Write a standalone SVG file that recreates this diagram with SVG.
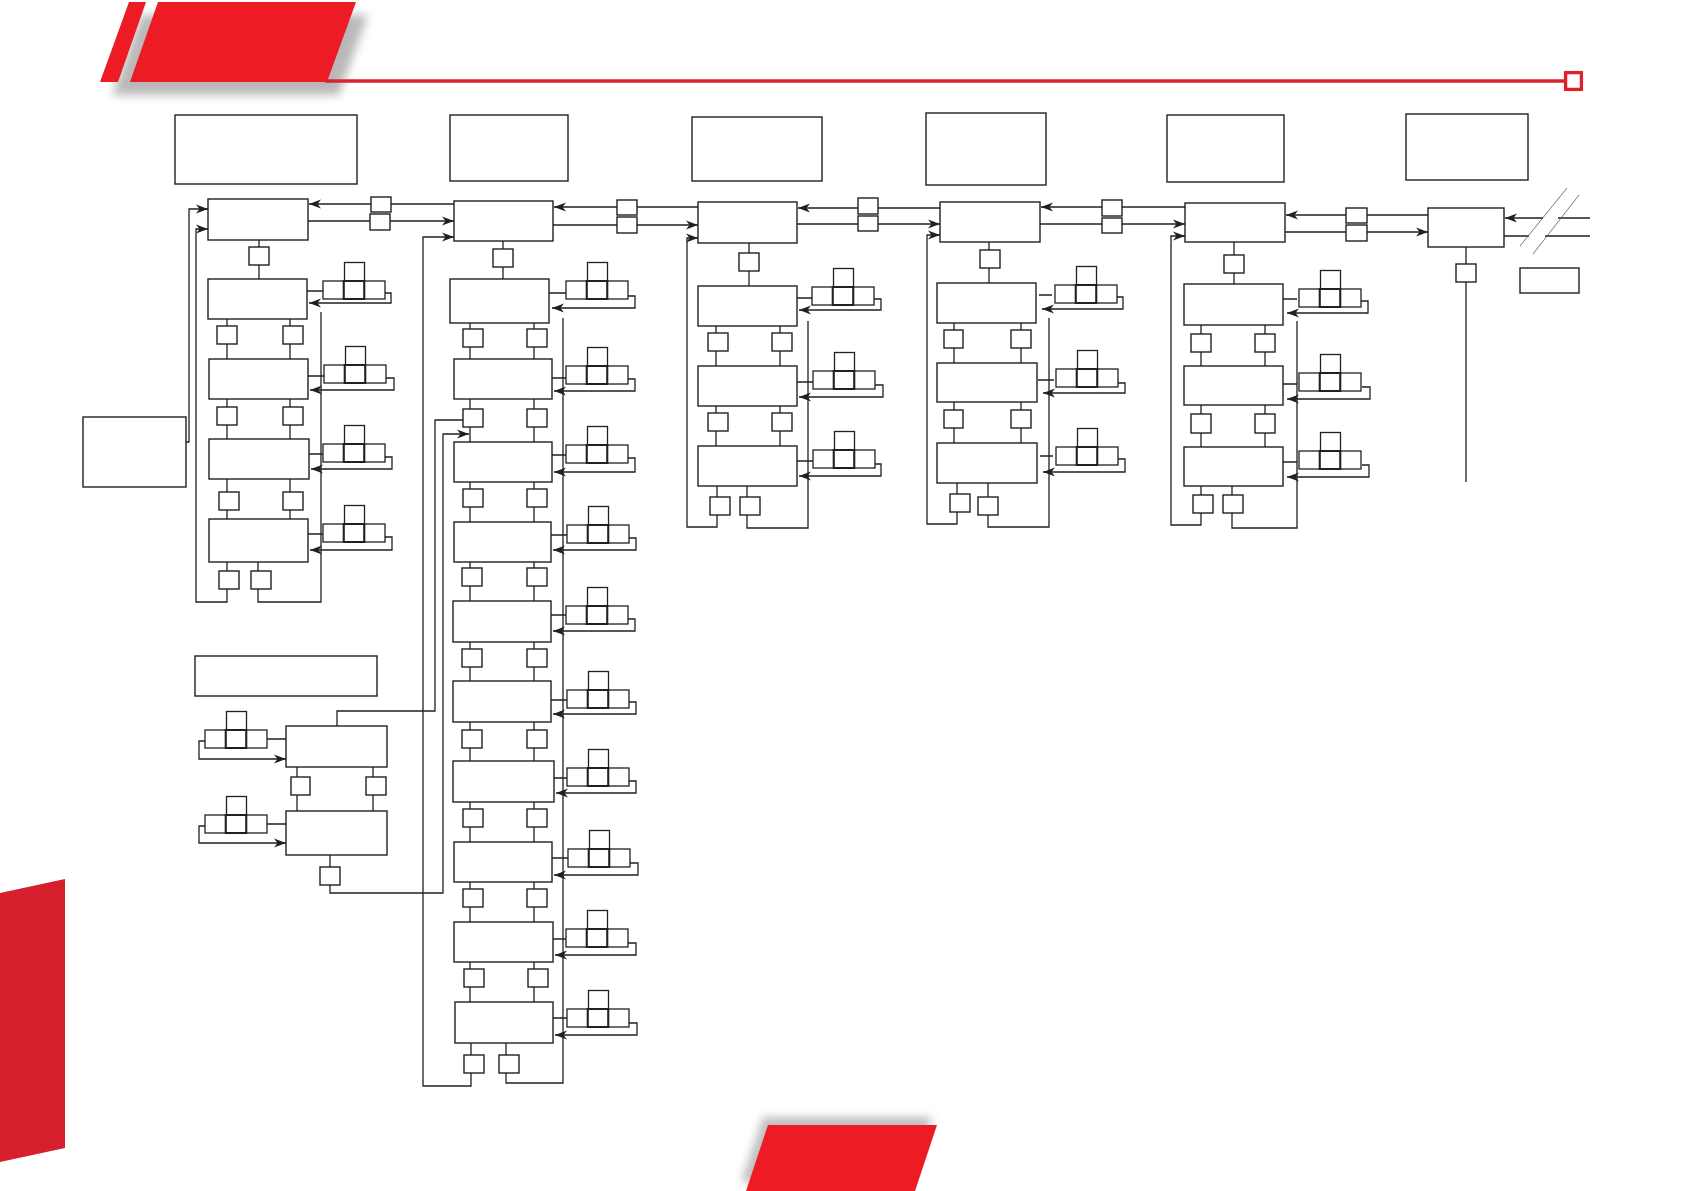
<svg xmlns="http://www.w3.org/2000/svg" xmlns:xlink="http://www.w3.org/1999/xlink" width="1684" height="1191" viewBox="0 0 1684 1191">
<defs>
<style>
.b{fill:#fff;stroke:#231f20;stroke-width:1.4}
.k{fill:#fff;stroke:#231f20;stroke-width:1.3}
.km{fill:none;stroke:#231f20;stroke-width:2}
.l{fill:none;stroke:#231f20;stroke-width:1.3}
.a{marker-end:url(#ar)}
.d{fill:none;stroke:#555;stroke-width:0.8}
</style>
<marker id="ar" markerUnits="userSpaceOnUse" markerWidth="14" markerHeight="10" viewBox="0 -5 14 10" refX="12" refY="0" orient="auto">
<path d="M0,-4.5 L12,0 L0,4.5 L3.5,0 z" fill="#231f20"/>
</marker>
<filter id="sh" x="-20%" y="-40%" width="140%" height="180%"><feGaussianBlur stdDeviation="5"/></filter>
<filter id="sh2" x="-20%" y="-40%" width="140%" height="180%"><feGaussianBlur stdDeviation="4"/></filter>
<g id="kp">
<rect class="k" x="0" y="0" width="20.7" height="18"/>
<rect class="k" x="41.3" y="0" width="20.7" height="18"/>
<rect class="k" x="21.5" y="-18.5" width="20" height="18.5"/>
<rect class="km" x="20.7" y="0" width="20.6" height="18"/>
</g>
</defs>
<rect width="1684" height="1191" fill="#fff"/>

<!-- decoration -->
<g id="decor">
<polygon points="112,95 141,15 368,15 339,95" fill="#8a8a8a" opacity="0.6" filter="url(#sh)"/>
<polygon points="100,82 129,2 146,2 118,82" fill="#ed1c24"/>
<polygon points="130,82 158,2 356,2 327,82" fill="#ed1c24"/>
<path d="M325,81 H1566" stroke="#da2330" stroke-width="3.5" fill="none"/>
<rect x="1565.6" y="72.6" width="15.8" height="16.8" fill="#fff" stroke="#e01f2b" stroke-width="3.3"/>
<polygon points="0,893 65,879 65,1148 0,1162" fill="#d51f2c"/>
<polygon points="763,1117 932,1117 910,1182 741,1182" fill="#8a8a8a" opacity="0.55" filter="url(#sh2)"/>
<polygon points="768,1125 937,1125 915,1191 746,1191" fill="#ed1c24"/>
</g>

<!-- connectors -->
<g id="connectors">
<!-- column 1 -->
<path class="l a" d="M186,442 H189 V209 H208"/>
<path class="l a" d="M227,562 V602 H196 V229 H208"/>
<path class="l" d="M258,562 V602 H321 V312"/>
<path class="l a" d="M454,204 H309"/>
<path class="l a" d="M308,221 H454"/>
<path class="l" d="M259,240 V279"/>
<path class="l" d="M227,319 V359 M290,319 V359 M227,399 V439 M290,399 V439 M227,479 V519 M290,479 V519"/>
<path class="l" d="M307,291 H323 M308,376 H324 M309,454 H323 M308,534 H323"/>
<path class="l a" d="M385,293 H391 V303 H309"/>
<path class="l a" d="M386,378 H394 V390 H310"/>
<path class="l a" d="M385,457 H392 V469 H311"/>
<path class="l a" d="M385,537 H392 V550 H310"/>
<!-- lower cluster -->
<path class="l" d="M337,726 V711 H435 V420 H463"/>
<path class="l a" d="M330,855 V893 H443 V434 H469"/>
<path class="l" d="M297,767 V811 M373,767 V811"/>
<path class="l" d="M267,739 H286 M267,824 H286"/>
<path class="l a" d="M205,741 H199 V759 H286"/>
<path class="l a" d="M205,826 H199 V843 H286"/>
<!-- column 2 -->
<path class="l a" d="M471,1043 V1086 H423 V237 H454"/>
<path class="l" d="M506,1043 V1083 H563 V318"/>
<path class="l" d="M503,241 V279"/>
<path class="l" d="M470,323 V359 M534,323 V359 M470,399 V442 M534,399 V442 M470,482 V522 M534,482 V522 M470,562 V601 M534,562 V601 M470,642 V681 M534,642 V681 M470,722 V761 M534,722 V761 M470,802 V842 M534,802 V842 M470,882 V922 M534,882 V922 M470,962 V1002 M534,962 V1002"/>
<path class="l a" d="M698,207 H554"/>
<path class="l a" d="M553,225 H698"/>
<path class="l" d="M549,293 H566 M552,378 H566 M552,455 H566 M551,535 H567 M551,615 H566 M551,700 H567 M554,778 H567 M552,858 H568 M553,939 H566 M553,1018 H567"/>
<path class="l a" d="M628,296 H635 V308 H552"/>
<path class="l a" d="M628,379 H635 V391 H554"/>
<path class="l a" d="M628,458 H635 V472 H554"/>
<path class="l a" d="M629,538 H636 V550 H553"/>
<path class="l a" d="M628,619 H635 V631 H553"/>
<path class="l a" d="M629,702 H636 V714 H553"/>
<path class="l a" d="M629,781 H636 V793 H556"/>
<path class="l a" d="M630,863 H638 V875 H554"/>
<path class="l a" d="M628,943 H636 V955 H555"/>
<path class="l a" d="M629,1023 H637 V1035 H555"/>
<!-- column 3 -->
<path class="l a" d="M717,486 V527 H687 V238 H698"/>
<path class="l" d="M747,486 V528 H808 V321"/>
<path class="l" d="M749,243 V286"/>
<path class="l" d="M716,326 V366 M780,326 V366 M716,406 V446 M780,406 V446"/>
<path class="l a" d="M940,208 H798"/>
<path class="l a" d="M797,224 H940"/>
<path class="l" d="M797,298 H812 M797,382 H813 M797,461 H813"/>
<path class="l a" d="M874,299 H881 V310 H799"/>
<path class="l a" d="M875,385 H883 V397 H799"/>
<path class="l a" d="M875,464 H881 V476 H799"/>
<!-- column 4 -->
<path class="l a" d="M957,483 V524 H927 V235 H940"/>
<path class="l" d="M988,483 V527 H1049 V318"/>
<path class="l" d="M989,242 V283"/>
<path class="l" d="M954,323 V363 M1021,323 V363 M954,402 V443 M1021,402 V443"/>
<path class="l a" d="M1185,207 H1041"/>
<path class="l a" d="M1040,224 H1185"/>
<path class="l" d="M1039,295 H1052 M1038,380 H1054 M1040,456 H1053"/>
<path class="l a" d="M1117,297 H1123 V309 H1042"/>
<path class="l a" d="M1118,383 H1125 V393 H1043"/>
<path class="l a" d="M1118,459 H1125 V472 H1043"/>
<!-- column 5 -->
<path class="l a" d="M1201,486 V525 H1171 V236 H1185"/>
<path class="l" d="M1232,486 V528 H1297 V321"/>
<path class="l" d="M1234,242 V284"/>
<path class="l" d="M1201,325 V366 M1265,325 V366 M1201,405 V447 M1265,405 V447"/>
<path class="l a" d="M1428,215 H1286"/>
<path class="l a" d="M1285,232 H1428"/>
<path class="l" d="M1283,299 H1297 M1283,384 H1297 M1283,462 H1297"/>
<path class="l a" d="M1361,301 H1368 V313 H1287"/>
<path class="l a" d="M1362,387 H1370 V399 H1287"/>
<path class="l a" d="M1362,465 H1369 V477 H1287"/>
<!-- column 6 -->
<path class="l" d="M1466,247 V482"/>
<path class="l a" d="M1543,218 H1505"/>
<path class="l" d="M1558,218 H1590 M1504,236 H1529 M1545,236 H1590"/>
<path class="d" d="M1520,246 L1567,188 M1533,254 L1579,195"/>
</g>

<!-- header boxes -->
<g id="hdr1"><rect class="b" x="175" y="115" width="182" height="69"/></g>
<g id="hdr2"><rect class="b" x="450" y="115" width="118" height="66"/></g>
<g id="hdr3"><rect class="b" x="692" y="117" width="130" height="64"/></g>
<g id="hdr4"><rect class="b" x="926" y="113" width="120" height="72"/></g>
<g id="hdr5"><rect class="b" x="1167" y="115" width="117" height="67"/></g>
<g id="hdr6"><rect class="b" x="1406" y="114" width="122" height="66"/></g>

<!-- column 1 -->
<g id="A1"><rect class="b" x="208" y="199" width="100" height="41"/></g>
<g id="sA1"><rect class="b" x="249" y="247" width="20" height="18"/></g>
<g id="B1"><rect class="b" x="208" y="279" width="99" height="40"/></g>
<g id="sB1L"><rect class="b" x="217" y="326" width="20" height="18"/></g>
<g id="sB1R"><rect class="b" x="283" y="326" width="20" height="18"/></g>
<g id="C1"><rect class="b" x="209" y="359" width="99" height="40"/></g>
<g id="sC1L"><rect class="b" x="217" y="407" width="20" height="18"/></g>
<g id="sC1R"><rect class="b" x="283" y="407" width="20" height="18"/></g>
<g id="D1"><rect class="b" x="209" y="439" width="100" height="40"/></g>
<g id="sD1L"><rect class="b" x="219" y="492" width="20" height="18"/></g>
<g id="sD1R"><rect class="b" x="283" y="492" width="20" height="18"/></g>
<g id="E1"><rect class="b" x="209" y="519" width="99" height="43"/></g>
<g id="sE1L"><rect class="b" x="219" y="571" width="20" height="18"/></g>
<g id="sE1R"><rect class="b" x="251" y="571" width="20" height="18"/></g>
<g id="L1"><rect class="b" x="83" y="417" width="103" height="70"/></g>
<g id="s12a"><rect class="b" x="371" y="197" width="20" height="15"/></g>
<g id="s12b"><rect class="b" x="370" y="214" width="20" height="16"/></g>
<g id="kpB1"><use xlink:href="#kp" x="323" y="281"/></g>
<g id="kpC1"><use xlink:href="#kp" x="324" y="365"/></g>
<g id="kpD1"><use xlink:href="#kp" x="323" y="444"/></g>
<g id="kpE1"><use xlink:href="#kp" x="323" y="524"/></g>

<!-- lower cluster -->
<g id="W1"><rect class="b" x="195" y="656" width="182" height="40"/></g>
<g id="F1"><rect class="b" x="286" y="726" width="101" height="41"/></g>
<g id="sF1L"><rect class="b" x="291" y="777" width="19" height="18"/></g>
<g id="sF1R"><rect class="b" x="366" y="777" width="20" height="18"/></g>
<g id="G1"><rect class="b" x="286" y="811" width="101" height="44"/></g>
<g id="sG1"><rect class="b" x="320" y="867" width="20" height="18"/></g>
<g id="kpF1"><use xlink:href="#kp" x="205" y="730"/></g>
<g id="kpG1"><use xlink:href="#kp" x="205" y="815"/></g>

<!-- column 2 -->
<g id="A2"><rect class="b" x="454" y="201" width="99" height="40"/></g>
<g id="sA2"><rect class="b" x="493" y="249" width="20" height="18"/></g>
<g id="B2"><rect class="b" x="450" y="279" width="99" height="44"/></g>
<g id="C2"><rect class="b" x="454" y="359" width="98" height="40"/></g>
<g id="D2"><rect class="b" x="454" y="442" width="98" height="40"/></g>
<g id="E2"><rect class="b" x="454" y="522" width="97" height="40"/></g>
<g id="F2"><rect class="b" x="453" y="601" width="98" height="41"/></g>
<g id="G2"><rect class="b" x="453" y="681" width="98" height="41"/></g>
<g id="H2"><rect class="b" x="453" y="761" width="101" height="41"/></g>
<g id="I2"><rect class="b" x="454" y="842" width="98" height="40"/></g>
<g id="J2"><rect class="b" x="454" y="922" width="99" height="40"/></g>
<g id="K2"><rect class="b" x="455" y="1002" width="98" height="41"/></g>
<g id="sBC2L"><rect class="b" x="463" y="329" width="20" height="18"/></g>
<g id="sBC2R"><rect class="b" x="527" y="329" width="20" height="18"/></g>
<g id="sCD2L"><rect class="b" x="463" y="409" width="20" height="18"/></g>
<g id="sCD2R"><rect class="b" x="527" y="409" width="20" height="18"/></g>
<g id="sDE2L"><rect class="b" x="463" y="489" width="20" height="18"/></g>
<g id="sDE2R"><rect class="b" x="527" y="489" width="20" height="18"/></g>
<g id="sEF2L"><rect class="b" x="462" y="568" width="20" height="18"/></g>
<g id="sEF2R"><rect class="b" x="527" y="568" width="20" height="18"/></g>
<g id="sFG2L"><rect class="b" x="462" y="649" width="20" height="18"/></g>
<g id="sFG2R"><rect class="b" x="527" y="649" width="20" height="18"/></g>
<g id="sGH2L"><rect class="b" x="462" y="730" width="20" height="18"/></g>
<g id="sGH2R"><rect class="b" x="527" y="730" width="20" height="18"/></g>
<g id="sHI2L"><rect class="b" x="463" y="809" width="20" height="18"/></g>
<g id="sHI2R"><rect class="b" x="527" y="809" width="20" height="18"/></g>
<g id="sIJ2L"><rect class="b" x="463" y="889" width="20" height="18"/></g>
<g id="sIJ2R"><rect class="b" x="527" y="889" width="20" height="18"/></g>
<g id="sJK2L"><rect class="b" x="464" y="969" width="20" height="18"/></g>
<g id="sJK2R"><rect class="b" x="528" y="969" width="20" height="18"/></g>
<g id="sK2L"><rect class="b" x="464" y="1055" width="20" height="18"/></g>
<g id="sK2R"><rect class="b" x="499" y="1055" width="20" height="18"/></g>
<g id="s23a"><rect class="b" x="617" y="200" width="20" height="15"/></g>
<g id="s23b"><rect class="b" x="617" y="217" width="20" height="16"/></g>
<g id="kpB2"><use xlink:href="#kp" x="566" y="281"/></g>
<g id="kpC2"><use xlink:href="#kp" x="566" y="366"/></g>
<g id="kpD2"><use xlink:href="#kp" x="566" y="445"/></g>
<g id="kpE2"><use xlink:href="#kp" x="567" y="525"/></g>
<g id="kpF2"><use xlink:href="#kp" x="566" y="606"/></g>
<g id="kpG2"><use xlink:href="#kp" x="567" y="690"/></g>
<g id="kpH2"><use xlink:href="#kp" x="567" y="768"/></g>
<g id="kpI2"><use xlink:href="#kp" x="568" y="849"/></g>
<g id="kpJ2"><use xlink:href="#kp" x="566" y="929"/></g>
<g id="kpK2"><use xlink:href="#kp" x="567" y="1009"/></g>

<!-- column 3 -->
<g id="A3"><rect class="b" x="698" y="202" width="99" height="41"/></g>
<g id="sA3"><rect class="b" x="739" y="253" width="20" height="18"/></g>
<g id="B3"><rect class="b" x="698" y="286" width="99" height="40"/></g>
<g id="sB3L"><rect class="b" x="708" y="333" width="20" height="18"/></g>
<g id="sB3R"><rect class="b" x="772" y="333" width="20" height="18"/></g>
<g id="C3"><rect class="b" x="698" y="366" width="99" height="40"/></g>
<g id="sC3L"><rect class="b" x="708" y="413" width="20" height="18"/></g>
<g id="sC3R"><rect class="b" x="772" y="413" width="20" height="18"/></g>
<g id="D3"><rect class="b" x="698" y="446" width="99" height="40"/></g>
<g id="sD3L"><rect class="b" x="710" y="497" width="20" height="18"/></g>
<g id="sD3R"><rect class="b" x="740" y="497" width="20" height="18"/></g>
<g id="s34a"><rect class="b" x="858" y="198" width="20" height="16"/></g>
<g id="s34b"><rect class="b" x="858" y="216" width="20" height="15"/></g>
<g id="kpB3"><use xlink:href="#kp" x="812" y="287"/></g>
<g id="kpC3"><use xlink:href="#kp" x="813" y="371"/></g>
<g id="kpD3"><use xlink:href="#kp" x="813" y="450"/></g>

<!-- column 4 -->
<g id="A4"><rect class="b" x="940" y="202" width="100" height="40"/></g>
<g id="sA4"><rect class="b" x="980" y="250" width="20" height="18"/></g>
<g id="B4"><rect class="b" x="937" y="283" width="99" height="40"/></g>
<g id="sB4L"><rect class="b" x="944" y="330" width="19" height="18"/></g>
<g id="sB4R"><rect class="b" x="1011" y="330" width="20" height="18"/></g>
<g id="C4"><rect class="b" x="937" y="363" width="100" height="39"/></g>
<g id="sC4L"><rect class="b" x="944" y="410" width="19" height="18"/></g>
<g id="sC4R"><rect class="b" x="1011" y="410" width="20" height="18"/></g>
<g id="D4"><rect class="b" x="937" y="443" width="100" height="40"/></g>
<g id="sD4L"><rect class="b" x="950" y="494" width="20" height="18"/></g>
<g id="sD4R"><rect class="b" x="978" y="497" width="20" height="18"/></g>
<g id="s45a"><rect class="b" x="1102" y="200" width="20" height="16"/></g>
<g id="s45b"><rect class="b" x="1102" y="218" width="20" height="15"/></g>
<g id="kpB4"><use xlink:href="#kp" x="1055" y="285"/></g>
<g id="kpC4"><use xlink:href="#kp" x="1056" y="369"/></g>
<g id="kpD4"><use xlink:href="#kp" x="1056" y="447"/></g>

<!-- column 5 -->
<g id="A5"><rect class="b" x="1185" y="203" width="100" height="39"/></g>
<g id="sA5"><rect class="b" x="1224" y="255" width="20" height="18"/></g>
<g id="B5"><rect class="b" x="1184" y="284" width="99" height="41"/></g>
<g id="sB5L"><rect class="b" x="1191" y="334" width="20" height="18"/></g>
<g id="sB5R"><rect class="b" x="1255" y="334" width="20" height="18"/></g>
<g id="C5"><rect class="b" x="1184" y="366" width="99" height="39"/></g>
<g id="sC5L"><rect class="b" x="1191" y="414" width="20" height="19"/></g>
<g id="sC5R"><rect class="b" x="1255" y="414" width="20" height="19"/></g>
<g id="D5"><rect class="b" x="1184" y="447" width="99" height="39"/></g>
<g id="sD5L"><rect class="b" x="1193" y="495" width="20" height="18"/></g>
<g id="sD5R"><rect class="b" x="1223" y="495" width="20" height="18"/></g>
<g id="s56a"><rect class="b" x="1346" y="208" width="21" height="15"/></g>
<g id="s56b"><rect class="b" x="1346" y="225" width="21" height="16"/></g>
<g id="kpB5"><use xlink:href="#kp" x="1299" y="289"/></g>
<g id="kpC5"><use xlink:href="#kp" x="1299" y="373"/></g>
<g id="kpD5"><use xlink:href="#kp" x="1299" y="451"/></g>

<!-- column 6 -->
<g id="A6"><rect class="b" x="1428" y="208" width="76" height="39"/></g>
<g id="sA6"><rect class="b" x="1456" y="264" width="20" height="18"/></g>
<g id="R6"><rect class="b" x="1520" y="268" width="59" height="25"/></g>
</svg>
